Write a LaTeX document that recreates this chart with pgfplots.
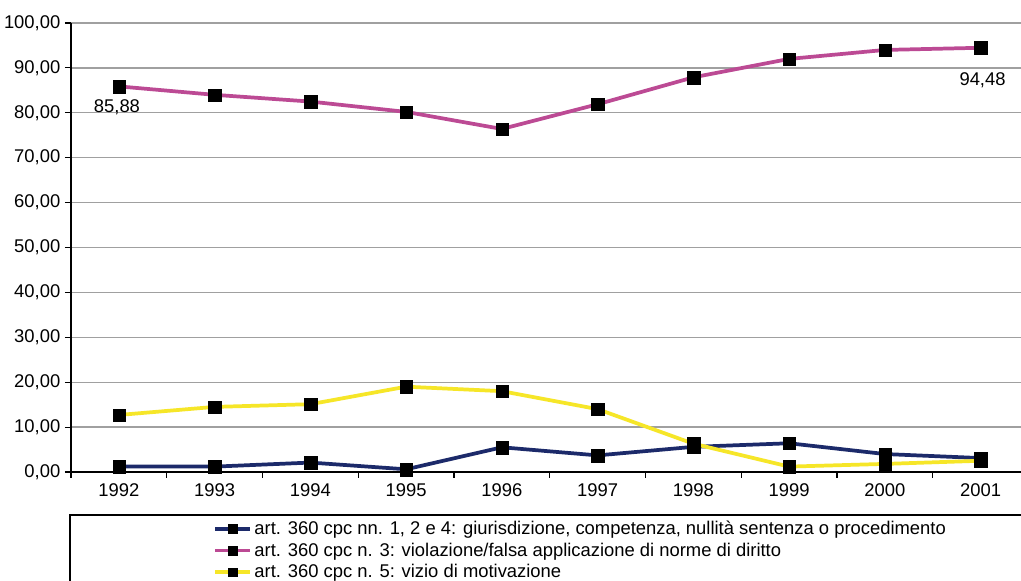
\documentclass[border=0pt]{standalone}
\usepackage{pgfplots}
\pgfplotsset{compat=1.18}
\usepackage{fontspec}
\setmainfont{Liberation Sans}
\definecolor{navy}{RGB}{28,42,106}
\definecolor{mag}{RGB}{188,74,148}
\definecolor{yel}{RGB}{246,230,40}
\definecolor{gridc}{RGB}{160,160,160}
\begin{document}
\begin{tikzpicture}
\useasboundingbox (0,0) rectangle (765.75pt,435.75pt);
\clip (0,0) rectangle (765.75pt,435.75pt);
\fill[white] (0,0) rectangle (765.75pt,435.75pt);
\begin{axis}[
  at={(53.25pt,81.75pt)}, anchor=south west,
  scale only axis, width=718.125pt, height=336.75pt,
  xmin=-0.5, xmax=9.5, ymin=0, ymax=100,
  axis lines=left,
  axis line style={black, line width=0.8pt, -},
  xtick={-0.5,0.5,1.5,2.5,3.5,4.5,5.5,6.5,7.5,8.5,9.5},
  xticklabels={},
  extra x ticks={0,1,2,3,4,5,6,7,8,9},
  extra x tick labels={1992,1993,1994,1995,1996,1997,1998,1999,2000,2001},
  extra x tick style={major tick length=0pt, grid=none},
  ytick={0,10,...,100},
  tick align=outside,
  major tick length=4.5pt,
  tick style={black, line width=0.8pt},
  ymajorgrids,
  grid style={gridc, line width=1pt},
  tick label style={font=\fontsize{13.8}{15}\selectfont},
  yticklabel style={/pgf/number format/.cd, fixed, fixed zerofill, precision=2, use comma, assume math mode=true},
  xticklabel style={yshift=-5pt},
  legend style={at={(0.147,-0.1)}, anchor=north west, draw=none, fill=none,
    font=\fontsize{13.8}{15}\selectfont, row sep=0.6pt, inner sep=1pt},
  legend cell align=left,
  legend image code/.code={\draw[mark repeat=2, mark phase=2, #1, mark size=3.3pt] plot coordinates {(0pt,0pt) (13pt,0pt) (26pt,0pt)};},
]
\addplot[navy, line width=2.8pt, mark=square*, mark size=4.7pt, mark options={draw=black, fill=black, line width=0.1pt, solid}] coordinates {
(0,1.2) (1,1.2) (2,2.1) (3,0.6) (4,5.5) (5,3.7) (6,5.6) (7,6.4) (8,4.0) (9,3.1)};
\addlegendentry{art. 360 cpc nn. 1, 2 e 4: giurisdizione, competenza, nullità sentenza o procedimento}
\addplot[mag, line width=2.8pt, mark=square*, mark size=4.7pt, mark options={draw=black, fill=black, line width=0.1pt, solid}] coordinates {
(0,85.88) (1,84.0) (2,82.5) (3,80.2) (4,76.4) (5,81.9) (6,87.9) (7,92.0) (8,94.0) (9,94.48)};
\addlegendentry{art. 360 cpc n. 3: violazione/falsa applicazione di norme di diritto}
\addplot[yel, line width=2.8pt, mark=square*, mark size=4.7pt, mark options={draw=black, fill=black, line width=0.1pt, solid}] coordinates {
(0,12.7) (1,14.5) (2,15.1) (3,19.0) (4,18.0) (5,14.0) (6,6.3) (7,1.2) (8,1.8) (9,2.5)};
\addlegendentry{art. 360 cpc n. 5: vizio di motivazione}
\node[font=\fontsize{13.8}{15}\selectfont] at (axis cs:-0.02,81.3) {85,88};
\node[font=\fontsize{13.8}{15}\selectfont] at (axis cs:9.02,87.3) {94,48};
\end{axis}
\draw[black, line width=0.8pt] (52.5pt,49.5pt) rectangle (800pt,-20pt);
\end{tikzpicture}
\end{document}
